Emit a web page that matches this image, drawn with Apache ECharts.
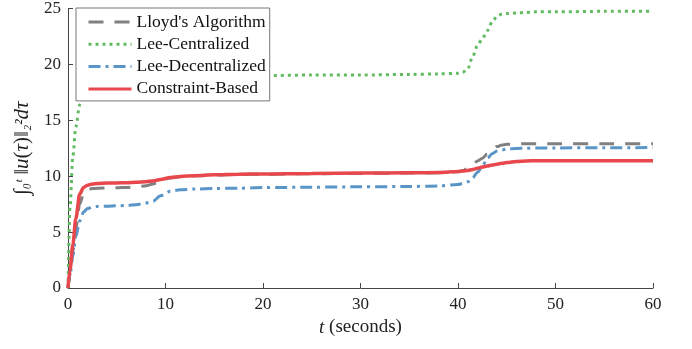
<!DOCTYPE html>
<html>
<head>
<meta charset="utf-8">
<script src="https://cdn.jsdelivr.net/npm/echarts@6/dist/echarts.min.js"></script>
<style>
  html, body { margin: 0; padding: 0; background: #fff; }
  #box1 { width: 692px; height: 349px; }
</style>
</head>
<body>
<div id="box1"></div>
<script>
// time samples (seconds)
var times = [0, 0.2, 0.5, 0.8, 1.2, 1.6, 2, 2.5, 3, 4, 5, 6, 7, 8, 8.7, 9.5, 10.5, 11.5, 13, 15, 17.5, 20, 25, 30, 35, 38, 40, 40.5, 41, 41.5, 42, 42.5, 43, 43.5, 44, 44.5, 45, 46, 47, 48, 50, 55, 60];

var lloyd = [0, 1.2, 3.3, 5.3, 7.5, 8.45, 8.8, 8.9, 8.92, 8.95, 8.97, 9.0, 9.05, 9.15, 9.3, 9.6, 9.85, 9.95, 10.03, 10.1, 10.15, 10.18, 10.22, 10.25, 10.28, 10.3, 10.4, 10.5, 10.7, 11.0, 11.35, 11.6, 12.0, 12.4, 12.65, 12.78, 12.85, 12.9, 12.9, 12.9, 12.9, 12.9, 12.9];
var leeCentral = [0, 7.2, 11.8, 14.4, 16.4, 17.3, 17.9, 18.3, 18.5, 18.7, 18.8, 18.9, 18.95, 19.0, 19.0, 19.0, 19.0, 19.0, 19.0, 19.0, 19.0, 19.0, 19.05, 19.05, 19.1, 19.15, 19.2, 19.3, 19.6, 20.7, 21.7, 22.3, 23.0, 23.8, 24.3, 24.5, 24.55, 24.6, 24.65, 24.7, 24.7, 24.75, 24.75];
var leeDecentral = [0, 1.1, 2.9, 4.6, 6.0, 6.8, 7.1, 7.25, 7.3, 7.32, 7.35, 7.38, 7.45, 7.6, 7.75, 8.25, 8.65, 8.78, 8.85, 8.9, 8.93, 8.98, 9.02, 9.05, 9.08, 9.13, 9.25, 9.35, 9.5, 9.85, 10.35, 10.9, 11.6, 12.0, 12.25, 12.35, 12.42, 12.48, 12.5, 12.52, 12.53, 12.55, 12.56];
var constraint = [0, 1.6, 3.9, 6.2, 8.4, 9.0, 9.2, 9.3, 9.35, 9.4, 9.4, 9.42, 9.45, 9.5, 9.58, 9.7, 9.88, 9.97, 10.05, 10.12, 10.18, 10.2, 10.25, 10.28, 10.3, 10.33, 10.42, 10.47, 10.52, 10.6, 10.72, 10.82, 10.92, 11.0, 11.08, 11.15, 11.22, 11.32, 11.37, 11.38, 11.38, 11.38, 11.38];

var names = ["Lloyd's Algorithm", 'Lee-Centralized', 'Lee-Decentralized', 'Constraint-Based'];

function pairs(vals) {
  return times.map(function (t, i) { return [t, vals[i]]; });
}

var serif = 'Liberation Serif';
var chart = echarts.init(document.getElementById('box1'));

var option = {
  animation: false,
  textStyle: { fontFamily: serif },
  grid: { left: 68, right: 39, top: 8, bottom: 61 },
  legend: {
    data: names,
    orient: 'vertical',
    left: 76,
    top: 8,
    padding: [5, 4, 3, 11],
    itemGap: 4.3,
    itemWidth: 43,
    itemHeight: 14,
    itemStyle: { opacity: 0 },
    lineStyle: { width: 3 },
    backgroundColor: '#fff',
    borderColor: '#777',
    borderWidth: 1,
    borderRadius: 0,
    textStyle: { fontFamily: serif, fontSize: 17.5, color: '#111', lineHeight: 17 }
  },
  xAxis: {
    type: 'value',
    min: 0, max: 60, interval: 10,
    name: '{i|t} (seconds)',
    nameLocation: 'middle',
    nameGap: 30,
    nameTextStyle: {
      fontFamily: serif, fontSize: 19, color: '#222',
      rich: { i: { fontFamily: serif, fontStyle: 'italic', fontSize: 19, color: '#222' } }
    },
    axisLine: { lineStyle: { color: '#444', width: 1 } },
    axisTick: { inside: true, length: 5, lineStyle: { color: '#444' } },
    axisLabel: { fontFamily: serif, fontSize: 17, color: '#222', margin: 8 },
    splitLine: { show: false }
  },
  yAxis: {
    type: 'value',
    min: 0, max: 25, interval: 5,
    name: '∫{s|₀}{s|ᵗ} ‖{i|u}({i|τ})‖{s|₂}{s|²}{i|dτ}',
    nameLocation: 'middle',
    nameGap: 29,
    nameTextStyle: {
      fontFamily: serif, fontSize: 21, color: '#222',
      rich: {
        i: { fontFamily: serif, fontStyle: 'italic', fontSize: 21, color: '#222' },
        s: { fontFamily: serif, fontStyle: 'italic', fontSize: 18, color: '#222' }
      }
    },
    axisLine: { show: true, lineStyle: { color: '#444', width: 1 } },
    axisTick: { show: true, inside: true, length: 5, lineStyle: { color: '#444' } },
    axisLabel: { fontFamily: serif, fontSize: 17, color: '#222', margin: 7 },
    splitLine: { show: false }
  },
  series: [{
    name: names[0],
    type: 'line',
    data: pairs(lloyd),
    symbol: 'none',
    smooth: 0.3,
    smoothMonotone: 'x',
    color: '#808080',
    lineStyle: { color: '#808080', width: 3, type: [15, 11] }
  }, {
    name: names[1],
    type: 'line',
    data: pairs(leeCentral),
    symbol: 'none',
    smooth: 0.3,
    smoothMonotone: 'x',
    color: '#62bb62',
    lineStyle: { color: '#62bb62', width: 3, type: [3, 4] }
  }, {
    name: names[2],
    type: 'line',
    data: pairs(leeDecentral),
    symbol: 'none',
    smooth: 0.3,
    smoothMonotone: 'x',
    color: '#5a95c8',
    lineStyle: { color: '#5a95c8', width: 3, type: [12, 5, 3, 5] }
  }, {
    name: names[3],
    type: 'line',
    data: pairs(constraint),
    symbol: 'none',
    smooth: 0.3,
    smoothMonotone: 'x',
    color: '#e8474c',
    lineStyle: { color: '#e8474c', width: 3.5, type: 'solid' }
  }]
};

chart.setOption(option);
</script>
</body>
</html>
